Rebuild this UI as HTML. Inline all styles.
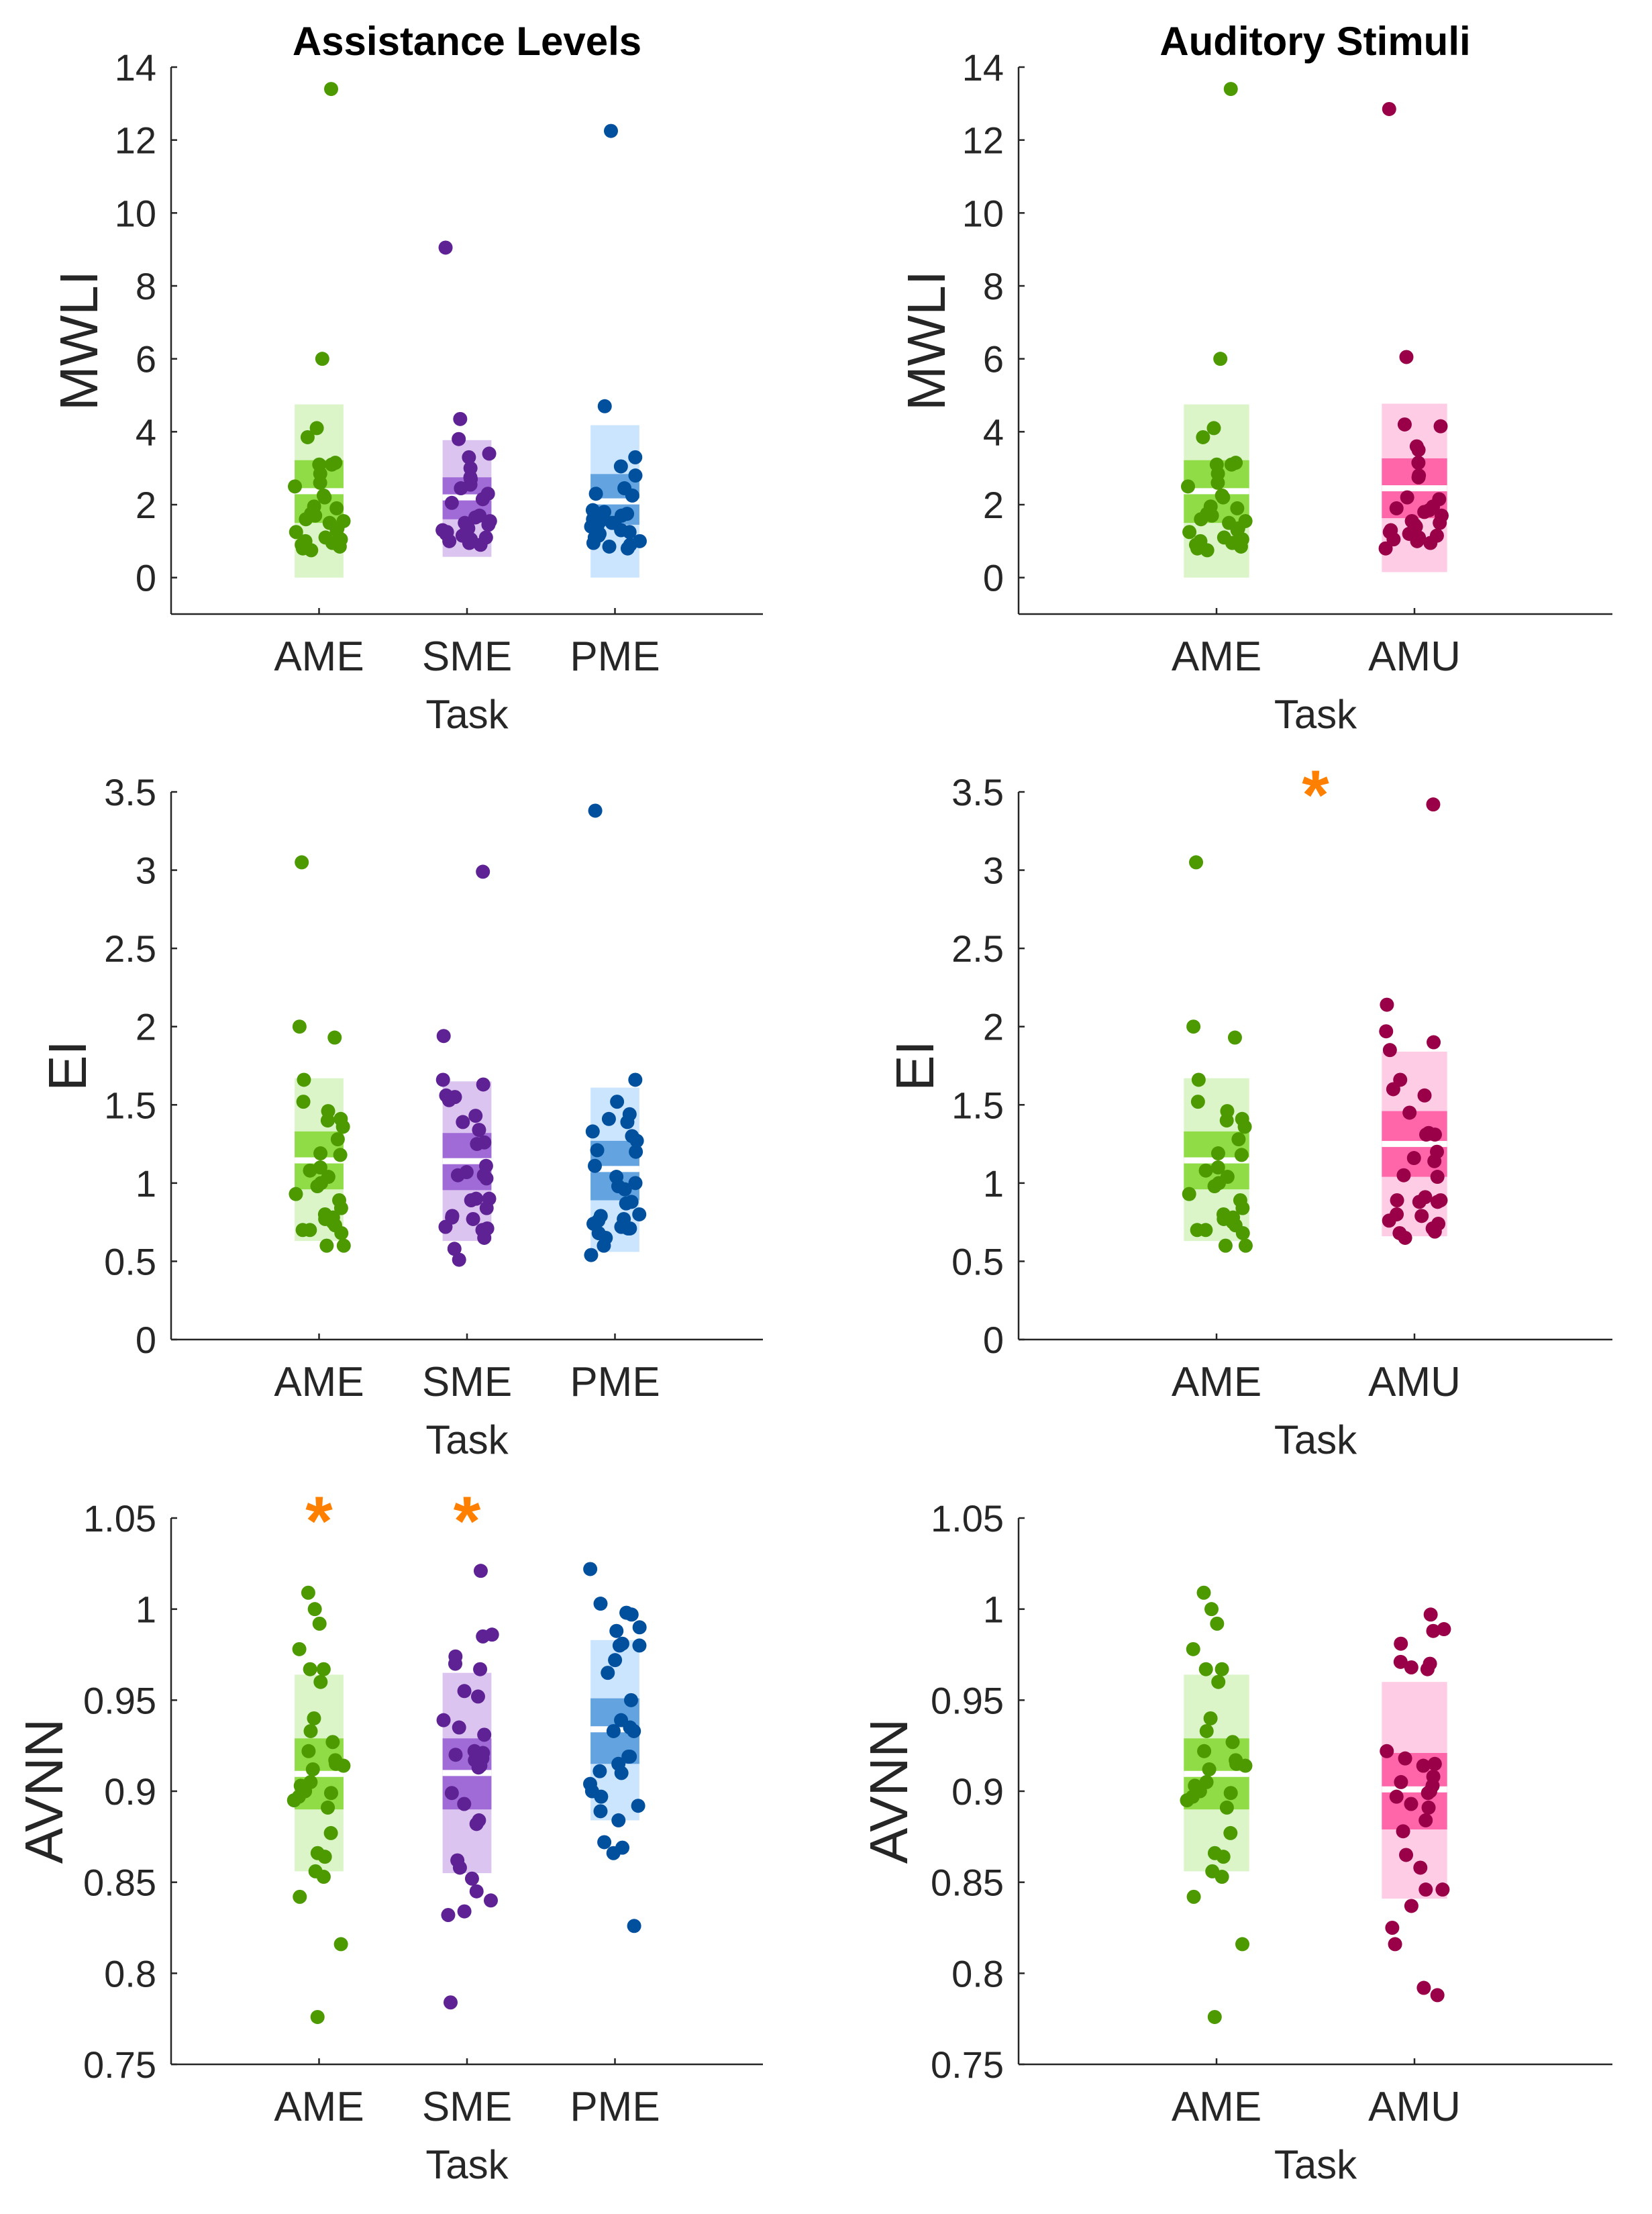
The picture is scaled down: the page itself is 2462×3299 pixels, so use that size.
<!DOCTYPE html>
<html><head><meta charset="utf-8">
<style>
html,body{margin:0;padding:0;background:#fff;}
svg{display:block;font-family:"Liberation Sans",Arial,sans-serif;}
</style></head>
<body>
<svg id="fig" width="2462" height="3299" viewBox="0 0 2462 3299" xmlns="http://www.w3.org/2000/svg">
<rect width="2462" height="3299" fill="#fff"/>
<text x="696" y="82" font-size="60" font-weight="bold" text-anchor="middle" fill="#000">Assistance Levels</text>
<text x="1960" y="82" font-size="60" font-weight="bold" text-anchor="middle" fill="#000">Auditory Stimuli</text>
</svg>
<script>
// ---- data ----
const catsLeft = ["AME","SME","PME"];
const catsRight = ["AME","AMU"];

const mwliTicks = [0,2,4,6,8,10,12,14];
const eiTicks = [0,0.5,1,1.5,2,2.5,3,3.5];
const avnnTicks = [0.75,0.8,0.85,0.9,0.95,1,1.05];
const mwliTickLabels = ["0","2","4","6","8","10","12","14"];
const eiTickLabels = ["0","0.5","1","1.5","2","2.5","3","3.5"];
const avnnTickLabels = ["0.75","0.8","0.85","0.9","0.95","1","1.05"];

const mwliAME = [13.4,6.0,4.1,3.85,3.15,3.1,3.1,2.85,2.6,2.5,2.25,2.2,1.95,1.9,1.75,1.7,1.6,1.55,1.5,1.35,1.3,1.25,1.1,1.05,1.0,0.95,0.9,0.85,0.8,0.75];
const mwliSME = [9.05,4.35,3.8,3.4,3.3,3.0,2.75,2.7,2.55,2.45,2.3,2.15,2.05,1.7,1.65,1.55,1.5,1.45,1.4,1.35,1.3,1.25,1.2,1.15,1.1,1.05,1.0,0.95,0.9,1.3];
const mwliPME = [12.25,4.7,3.3,3.05,2.8,2.45,2.3,2.25,1.85,1.8,1.75,1.7,1.65,1.6,1.55,1.5,1.5,1.45,1.4,1.35,1.3,1.25,1.2,1.15,1.1,1.0,0.95,0.9,0.85,0.8];
const mwliAMU = [12.85,6.05,4.2,4.15,3.6,3.5,3.15,2.8,2.75,2.2,2.15,1.95,1.9,1.85,1.8,1.7,1.55,1.5,1.45,1.4,1.35,1.3,1.25,1.2,1.15,1.1,1.05,1.0,0.95,0.8];

const eiAME = [3.05,2.0,1.93,1.66,1.52,1.46,1.41,1.40,1.36,1.28,1.19,1.18,1.10,1.08,1.04,1.0,0.98,0.93,0.89,0.84,0.80,0.78,0.77,0.75,0.73,0.70,0.70,0.68,0.60,0.60];
const eiSME = [2.99,1.94,1.66,1.63,1.56,1.55,1.53,1.43,1.39,1.34,1.26,1.25,1.11,1.07,1.05,1.05,1.03,0.90,0.90,0.89,0.84,0.79,0.78,0.77,0.72,0.71,0.70,0.65,0.58,0.51];
const eiPME = [3.38,1.66,1.52,1.44,1.41,1.39,1.33,1.30,1.27,1.21,1.20,1.11,1.04,1.00,0.98,0.96,0.88,0.87,0.80,0.79,0.77,0.76,0.74,0.72,0.71,0.71,0.68,0.65,0.60,0.54];
const eiAMU = [3.42,2.14,1.97,1.90,1.85,1.66,1.60,1.56,1.45,1.32,1.31,1.31,1.20,1.16,1.14,1.05,1.04,0.91,0.89,0.88,0.88,0.89,0.80,0.79,0.76,0.74,0.71,0.69,0.68,0.65];

const avnnAME = [1.009,1.0,0.992,0.978,0.967,0.967,0.96,0.94,0.933,0.927,0.922,0.917,0.915,0.914,0.912,0.905,0.903,0.90,0.899,0.897,0.895,0.891,0.877,0.866,0.864,0.856,0.853,0.842,0.816,0.776];
const avnnSME = [1.021,0.986,0.985,0.974,0.970,0.967,0.955,0.952,0.939,0.935,0.931,0.922,0.921,0.920,0.918,0.914,0.913,0.899,0.893,0.884,0.882,0.862,0.858,0.852,0.845,0.840,0.834,0.832,0.784,0.917];
const avnnPME = [1.022,1.003,0.998,0.997,0.990,0.988,0.981,0.980,0.980,0.972,0.965,0.950,0.939,0.935,0.933,0.933,0.919,0.919,0.915,0.911,0.910,0.904,0.900,0.897,0.892,0.889,0.884,0.872,0.869,0.866,0.826];
const avnnAMU = [0.997,0.989,0.988,0.981,0.971,0.970,0.968,0.967,0.922,0.918,0.915,0.914,0.908,0.905,0.903,0.900,0.899,0.897,0.893,0.891,0.884,0.878,0.865,0.858,0.846,0.846,0.837,0.825,0.816,0.792,0.788];

// summary bands: [outerLow, outerHigh, innerLow, innerHigh, mean]
const mwliBandAME = [0, 4.75, 1.5, 3.22, 2.37];
const mwliBandSME = [0.57, 3.77, 1.6, 2.75, 2.2];
const mwliBandPME = [0, 4.18, 1.45, 2.84, 2.09];
const mwliBandAMU = [0.15, 4.77, 1.63, 3.27, 2.45];
const eiBandAME = [0.63, 1.67, 0.96, 1.33, 1.145];
const eiBandSME = [0.63, 1.65, 0.955, 1.32, 1.14];
const eiBandPME = [0.56, 1.61, 0.89, 1.27, 1.09];
const eiBandAMU = [0.66, 1.84, 1.04, 1.46, 1.25];
const avnnBandAME = [0.856, 0.964, 0.890, 0.929, 0.9095];
const avnnBandSME = [0.855, 0.965, 0.890, 0.929, 0.910];
const avnnBandPME = [0.884, 0.983, 0.915, 0.951, 0.934];
const avnnBandAMU = [0.841, 0.960, 0.879, 0.921, 0.901];

// significance markers (category position index, 0.5 = between)
const starsAvnnLeft = [0, 1];
const starsEiRight = [0.5];

// ---- rendering ----
const NS = "http://www.w3.org/2000/svg";
const svg = document.getElementById("fig");
const COLORS = {
  AME:{dot:"#4C9A00",light:"#DBF5C8",mid:"#8FDC46"},
  SME:{dot:"#5E2294",light:"#DBC4F0",mid:"#A06BD6"},
  PME:{dot:"#00509E",light:"#CCE5FF",mid:"#62A3E0"},
  AMU:{dot:"#990047",light:"#FFCCE5",mid:"#FF66AA"}
};
function el(tag, attrs, parent){
  const e = document.createElementNS(NS, tag);
  for (const k in attrs) e.setAttribute(k, attrs[k]);
  (parent||svg).appendChild(e);
  return e;
}
// deterministic pseudo-jitter in [-1,1] (hash of index)
function jit(i, seed){
  const s = Math.sin((i + 1) * 12.9898 + seed * 78.233) * 43758.5453;
  return (s - Math.floor(s)) * 2 - 1;
}

function panel(o){
  const g = el("g", {});
  
  
  const x = v => o.x0 + (v - 0) / o.nx * (o.x1 - o.x0);
  const y = v => o.yb - (v - o.ymin) / (o.ymax - o.ymin) * (o.yb - o.yt);
  const bw = 0.165 * (o.x1 - o.x0) / o.nx;
  o.cats.forEach((c, ci) => {
    const cx = x(ci + 1);
    const b = o.bands[ci];
    const col = COLORS[c];
    const r1 = el("rect", {x:cx-bw, y:y(b[1]), width:2*bw, height:y(b[0])-y(b[1]), fill:col.light}, g);
    
    
    const r2 = el("rect", {x:cx-bw, y:y(b[3]), width:2*bw, height:y(b[2])-y(b[3]), fill:col.mid}, g);
    
    
    const ml = el("rect", {x:cx-bw, y:y(b[4])-4.5, width:2*bw, height:9, fill:"#fff"}, g);
    
    
    o.data[ci].forEach((v, i) => {
      const d = el("circle", {cx: x(ci + 1 + jit(i, ci + o.seed) * o.jw), cy: y(v), r: 10.5, fill: col.dot}, g);
      
      
    });
  });
  const ya = el("line", {x1:o.x0, y1:o.yt, x2:o.x0, y2:o.yb, stroke:"#262626", "stroke-width":2.5}, g);
  
  
  const xa = el("line", {x1:o.x0, y1:o.yb, x2:o.x1, y2:o.yb, stroke:"#262626", "stroke-width":2.5}, g);
  
  
  o.ticks.forEach((t, i) => {
    el("line", {x1:o.x0, y1:y(t), x2:o.x0+9, y2:y(t), stroke:"#262626", "stroke-width":2.5}, g);
    const tl = el("text", {x:o.x0-22, y:y(t)+20, "font-size":56, "text-anchor":"end", fill:"#262626"}, g);
    tl.textContent = o.tickLabels[i];
    
    
  });
  o.cats.forEach((c, ci) => {
    const cx = x(ci + 1);
    el("line", {x1:cx, y1:o.yb, x2:cx, y2:o.yb-9, stroke:"#262626", "stroke-width":2.5}, g);
    const cl = el("text", {x:cx, y:o.yb+84, "font-size":62, "text-anchor":"middle", fill:"#262626"}, g);
    cl.textContent = c;
    
    
  });
  const xt = el("text", {x:(o.x0+o.x1)/2, y:o.yb+170, "font-size":60, "text-anchor":"middle", fill:"#262626"}, g);
  xt.textContent = "Task";
  
  
  const ylx = o.x0 - o.ylOff, yly = (o.yt + o.yb) / 2;
  const yt = el("text", {x:ylx, y:yly, "font-size":80, "text-anchor":"middle", fill:"#262626", transform:`rotate(-90 ${ylx} ${yly})`, dy:28}, g);
  yt.textContent = o.ylabel;
  
  
  (o.stars||[]).forEach(s => {
    const st = el("text", {x:x(s + 1), y:o.yt + 40, "font-size":104, "font-weight":"bold", "text-anchor":"middle", fill:"#FF8000"}, g);
    st.textContent = "*";
    
    
  });
}

const L = {x0:255, x1:1137, nx:4, jw:0.17};
const R = {x0:1518, x1:2403, nx:3, jw:0.15};
const rows = [{yt:100, yb:915}, {yt:1180, yb:1996}, {yt:2262, yb:3076}];

panel(Object.assign({}, L, rows[0], {seed:1, name:"mwli-assistance-panel", ymin:-1, ymax:14, ticks:mwliTicks, tickLabels:mwliTickLabels, cats:catsLeft, data:[mwliAME,mwliSME,mwliPME], bands:[mwliBandAME,mwliBandSME,mwliBandPME], ylabel:"MWLI", ylOff:138}));
panel(Object.assign({}, R, rows[0], {seed:1, name:"mwli-auditory-panel", ymin:-1, ymax:14, ticks:mwliTicks, tickLabels:mwliTickLabels, cats:catsRight, data:[mwliAME,mwliAMU], bands:[mwliBandAME,mwliBandAMU], ylabel:"MWLI", ylOff:138}));
panel(Object.assign({}, L, rows[1], {seed:5, name:"ei-assistance-panel", ymin:0, ymax:3.5, ticks:eiTicks, tickLabels:eiTickLabels, cats:catsLeft, data:[eiAME,eiSME,eiPME], bands:[eiBandAME,eiBandSME,eiBandPME], ylabel:"EI", ylOff:155}));
panel(Object.assign({}, R, rows[1], {seed:5, name:"ei-auditory-panel", ymin:0, ymax:3.5, ticks:eiTicks, tickLabels:eiTickLabels, cats:catsRight, data:[eiAME,eiAMU], bands:[eiBandAME,eiBandAMU], ylabel:"EI", ylOff:155, stars:starsEiRight}));
panel(Object.assign({}, L, rows[2], {seed:9, name:"avnn-assistance-panel", ymin:0.75, ymax:1.05, ticks:avnnTicks, tickLabels:avnnTickLabels, cats:catsLeft, data:[avnnAME,avnnSME,avnnPME], bands:[avnnBandAME,avnnBandSME,avnnBandPME], ylabel:"AVNN", ylOff:190, stars:starsAvnnLeft}));
panel(Object.assign({}, R, rows[2], {seed:9, name:"avnn-auditory-panel", ymin:0.75, ymax:1.05, ticks:avnnTicks, tickLabels:avnnTickLabels, cats:catsRight, data:[avnnAME,avnnAMU], bands:[avnnBandAME,avnnBandAMU], ylabel:"AVNN", ylOff:194}));
</script>
</body></html>
